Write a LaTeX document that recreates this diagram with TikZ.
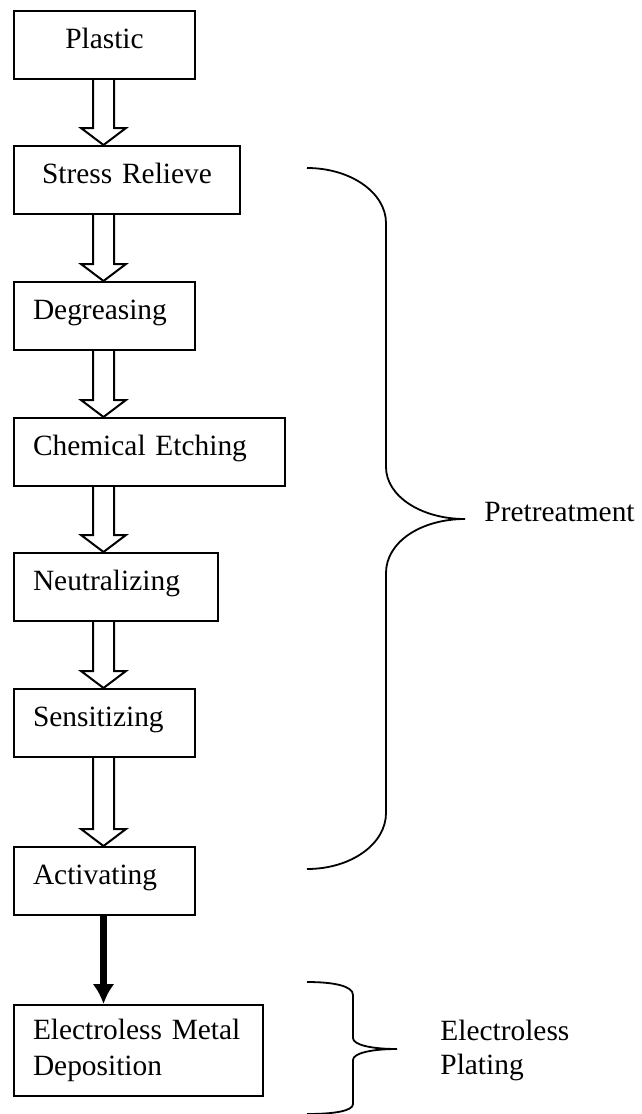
\documentclass[tikz,border=0pt]{standalone}
\usepackage{fontspec}
\setmainfont{Liberation Serif}
\usetikzlibrary{arrows.meta,calc}

\begin{document}
\begin{tikzpicture}[x=0.5pt,y=-0.5pt,>=Latex,
  stepbox/.style={draw,line width=1pt,anchor=north west,minimum height=34pt,
    inner xsep=9.5pt,inner ysep=0pt,text height=9pt,text depth=6pt,
    font=\fontsize{14.7pt}{18pt}\selectfont},
  hollow/.style={line width=1pt,line join=miter},
  brace/.style={line width=0.9pt},
  sidetext/.style={inner sep=0pt,align=left,font=\fontsize{14.7pt}{17pt}\selectfont}]
\useasboundingbox (0,0) rectangle (642,1114);
\coordinate (mid) at (103.5,0);
% process steps
\node[stepbox,text width=71.5pt,align=center] (plastic) at (13,10) {Plastic};
\node[stepbox,text width=94pt,align=center] (stress) at (13,145) {Stress Relieve};
\node[stepbox,text width=71.5pt,align=left] (degrease) at (13,281) {Degreasing};
\node[stepbox,text width=116.5pt,align=left] (etching) at (13,417) {Chemical Etching};
\node[stepbox,text width=83pt,align=left] (neutral) at (13,552) {Neutralizing};
\node[stepbox,text width=71.5pt,align=left] (sensit) at (13,688) {Sensitizing};
\node[stepbox,text width=71.5pt,align=left] (activ) at (13,846) {Activating};
\node[stepbox,text width=105.5pt,align=left,minimum height=45.5pt,
  text height={},text depth={}] (deposit) at (13,1004) {Electroless Metal\\Deposition};
% hollow arrows
\foreach \a/\b in {plastic/stress,stress/degrease,degrease/etching,etching/neutral,neutral/sensit,sensit/activ}
  \draw[hollow] ($(mid |- \a.south)+(-10.5,0)$) -- ($(mid |- \b.north)+(-10.5,-17)$)
    -- ($(mid |- \b.north)+(-22.5,-17)$) -- (mid |- \b.north)
    -- ($(mid |- \b.north)+(22.5,-17)$) -- ($(mid |- \b.north)+(10.5,-17)$)
    -- ($(mid |- \a.south)+(10.5,0)$);
\draw[line width=3.5pt,-{Latex[length=10pt,width=11pt]}] (mid |- activ.south) -- (mid |- deposit.north);
% braces
\coordinate (ptip) at (465,519);
\coordinate (etip) at (397,1049);
\draw[brace] (307,168) .. controls (351,168) and (386,193) .. (386,223) -- (386,467)
  .. controls (386,496) and (421,519) .. (ptip)
  .. controls (421,519) and (386,542) .. (386,573) -- (386,813)
  .. controls (386,844) and (351,869) .. (307,869);
\draw[brace] (307,982) .. controls (334,982) and (353,986) .. (353,995) -- (353,1038)
  .. controls (353,1045) and (372,1049) .. (etip)
  .. controls (372,1049) and (353,1053) .. (353,1060) -- (353,1104)
  .. controls (353,1111) and (334,1114) .. (307,1114);
\node[sidetext,anchor=base west] (pretext) at ($(ptip)+(19,2)$) {Pretreatment};
\node[sidetext,anchor=west] (platetext) at ($(etip)+(43,1)$) {Electroless\\Plating};
\end{tikzpicture}
\end{document}
